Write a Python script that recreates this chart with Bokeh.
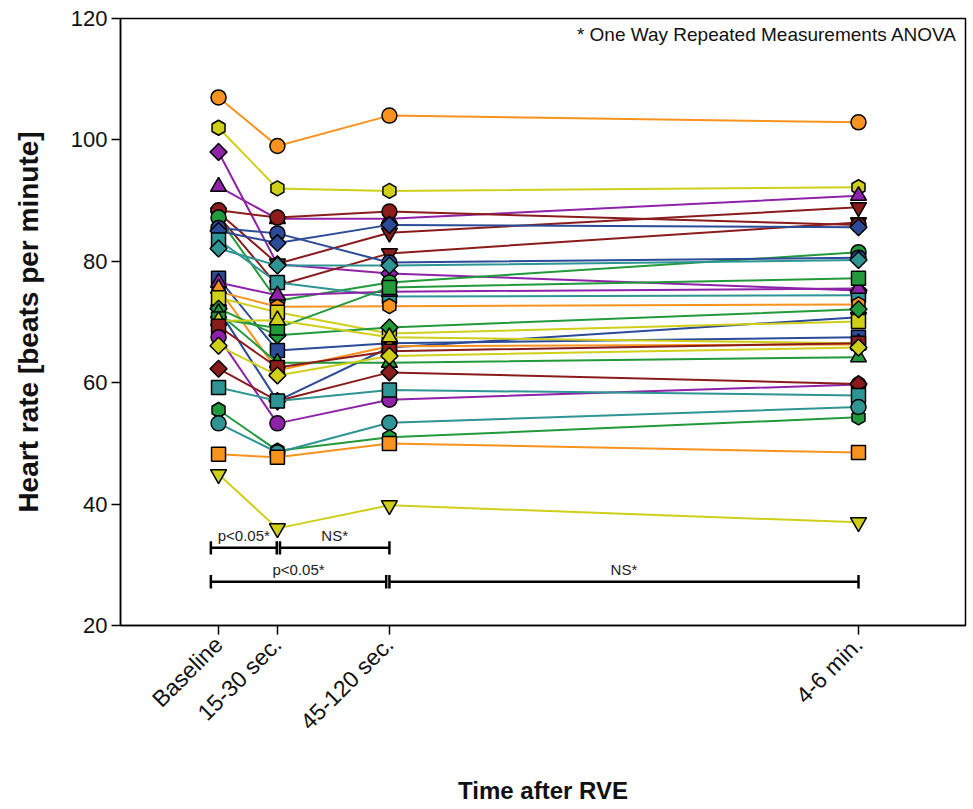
import math
from bokeh.plotting import figure
from bokeh.models import ColumnDataSource, Range1d, FixedTicker, Label
from bokeh.embed import file_html
from bokeh.resources import INLINE
from bokeh.core.properties import value

# ---------------- data ----------------
time_labels = ["Baseline", "15-30 sec.", "45-120 sec.", "4-6 min."]
time_pos = [0.0, 0.46, 1.335, 5.0]

series_color = ["orange", "yellow", "purple", "purple", "darkred", "darkred", "darkred",
                "green", "blue", "blue", "teal", "teal", "blue", "blue", "purple",
                "orange", "orange", "yellow", "green", "green", "green", "yellow",
                "darkred", "purple", "yellow", "darkred", "teal", "green", "teal",
                "orange", "yellow"]
series_marker = ["circle", "hex", "diamond", "triangle", "inverted_triangle", "inverted_triangle", "circle",
                 "circle", "circle", "diamond", "square", "diamond", "square", "inverted_triangle", "triangle",
                 "hex", "triangle", "square", "diamond", "triangle", "square", "triangle",
                 "square", "circle", "diamond", "diamond", "square", "hex", "circle",
                 "square", "inverted_triangle"]
hr_baseline = [107, 102, 98, 92.3, 88, 87.5, 88.4,
               87.2, 85.5, 85, 83.5, 82.1, 77.2, 72, 76.5,
               75, 75.5, 74, 72.2, 71.5, 70.5, 70.2,
               69.3, 67.5, 66.1, 62.3, 59.2, 55.5, 53.3,
               48.2, 44.9]
hr_15_30s = [99, 92, 79.5, 87, 79.6, 76, 87.2,
             73.5, 84.6, 83, 76.5, 79.3, 65.3, 57, 74.4,
             72.5, 62, 71.6, 67.8, 63.3, 69, 70.3,
             62.5, 53.3, 61.2, 57, 57, 48.8, 48.5,
             47.7, 36]
hr_45_120s = [104, 91.6, 78, 87, 84.7, 81.3, 88.2,
              76.5, 79.8, 86, 74.2, 79.3, 66.5, 65.8, 75,
              72.6, 66, 68.1, 69.1, 63.3, 75.7, 67.5,
              65.2, 57.2, 64.4, 61.7, 58.8, 51, 53.4,
              50, 39.8]
hr_4_6min = [102.9, 92.2, 75.2, 90.8, 88.9, 86.4, 86,
             81.5, 80.6, 85.6, 74.4, 80.2, 67.5, 70.8, 75.5,
             72.9, 66.3, 70.1, 72.1, 64.2, 77.2, 66.5,
             66.5, 59.7, 65.8, 59.8, 57.9, 54.3, 56,
             48.5, 37]

y_ticks = [20, 40, 60, 80, 100, 120]

# significance brackets (rows of the annotation)
bracket_y = [32.8, 32.8, 27.2, 27.2]
bracket_x0 = [-0.06, 0.48, -0.06, 1.335]
bracket_x1 = [0.455, 1.335, 1.31, 5.0]
bracket_text = ["p<0.05*", "NS*", "p<0.05*", "NS*"]

note_text = "* One Way Repeated Measurements ANOVA"

palette = {
    "orange": "#F7931E",
    "yellow": "#CFCF1A",
    "purple": "#8E22A8",
    "darkred": "#8A1C1C",
    "green": "#22993A",
    "blue": "#2B4A98",
    "teal": "#2E9494",
}
# marker glyph, size and rotation used to mimic the original symbols
marker_style = {
    "circle": ("circle", 15, 0.0),
    "hex": ("hex", 15, math.pi / 2),
    "diamond": ("square", 12, math.pi / 4),
    "square": ("square", 14, 0.0),
    "triangle": ("triangle", 16, 0.0),
    "inverted_triangle": ("inverted_triangle", 16, 0.0),
}

FONT = "Liberation Sans"

# ---------------- figure ----------------
p = figure(frame_width=845, frame_height=607, output_backend="svg", toolbar_location=None,
           x_range=Range1d(-0.766, 5.836), y_range=Range1d(20, 120),
           min_border_left=120, min_border_right=4, min_border_top=18,
           min_border_bottom=0)
p.grid.visible = False
p.outline_line_color = "black"
p.outline_line_width = 1.5
p.background_fill_color = "white"
p.border_fill_color = "white"

n = len(hr_baseline)
cols = [palette[c] for c in series_color]
for i in range(n):
    ys = [hr_baseline[i], hr_15_30s[i], hr_45_120s[i], hr_4_6min[i]]
    mk, sz, ang = marker_style[series_marker[i]]
    src = ColumnDataSource(dict(x=time_pos, y=ys))
    p.line("x", "y", source=src, line_color=cols[i], line_width=2)
    p.scatter("x", "y", source=src, marker=mk, size=sz, angle=ang,
              fill_color=cols[i], line_color="black", line_width=1.5)

# brackets
bsrc = ColumnDataSource(dict(x0=bracket_x0, x1=bracket_x1, y=bracket_y,
                             ylo=[v - 1.1 for v in bracket_y], yhi=[v + 1.1 for v in bracket_y],
                             xm=[(a + b) / 2 for a, b in zip(bracket_x0, bracket_x1)],
                             yt=[v + 0.6 for v in bracket_y], t=bracket_text))
p.segment(x0="x0", y0="y", x1="x1", y1="y", source=bsrc, line_color="black", line_width=2.5)
p.segment(x0="x0", y0="ylo", x1="x0", y1="yhi", source=bsrc, line_color="black", line_width=2.5)
p.segment(x0="x1", y0="ylo", x1="x1", y1="yhi", source=bsrc, line_color="black", line_width=2.5)
p.text(x="xm", y="yt", text="t", source=bsrc, text_font=value(FONT), text_font_size="15px",
       text_align="center", text_baseline="bottom", text_color="#222222")

p.add_layout(Label(x=5.77, y=117.4, text=note_text, text_font=FONT, text_font_size="19px",
                   text_align="right", text_baseline="middle", text_color="#111111"))

# axes
p.xaxis.ticker = FixedTicker(ticks=time_pos)
p.xaxis.major_label_overrides = {t: l for t, l in zip(time_pos, time_labels)}
p.xaxis.major_label_orientation = math.pi / 4
p.yaxis.ticker = FixedTicker(ticks=y_ticks)
for ax in (p.xaxis, p.yaxis):
    ax.minor_tick_line_color = None
    ax.major_tick_out = 9
    ax.major_tick_in = 0
    ax.major_tick_line_width = 1.5
    ax.axis_line_width = 1.5
    ax.axis_line_color = "black"
    ax.major_tick_line_color = "black"
    ax.major_label_text_font = FONT
    ax.major_label_text_color = "#111111"
    ax.axis_label_text_font = FONT
    ax.axis_label_text_font_style = "bold"
    ax.axis_label_text_color = "#111111"
p.xaxis.major_label_text_font_size = "23px"
p.yaxis.major_label_text_font_size = "22px"
p.xaxis.axis_label_text_font_size = "24px"
p.yaxis.axis_label_text_font_size = "28px"
p.xaxis.axis_label = "Time after RVE"
p.yaxis.axis_label = "Heart rate [beats per minute]"
p.xaxis.axis_label_standoff = 30
p.yaxis.axis_label_standoff = 24
p.xaxis.major_label_standoff = 6
p.yaxis.major_label_standoff = 4

open("out.html", "w").write(file_html(p, INLINE))
